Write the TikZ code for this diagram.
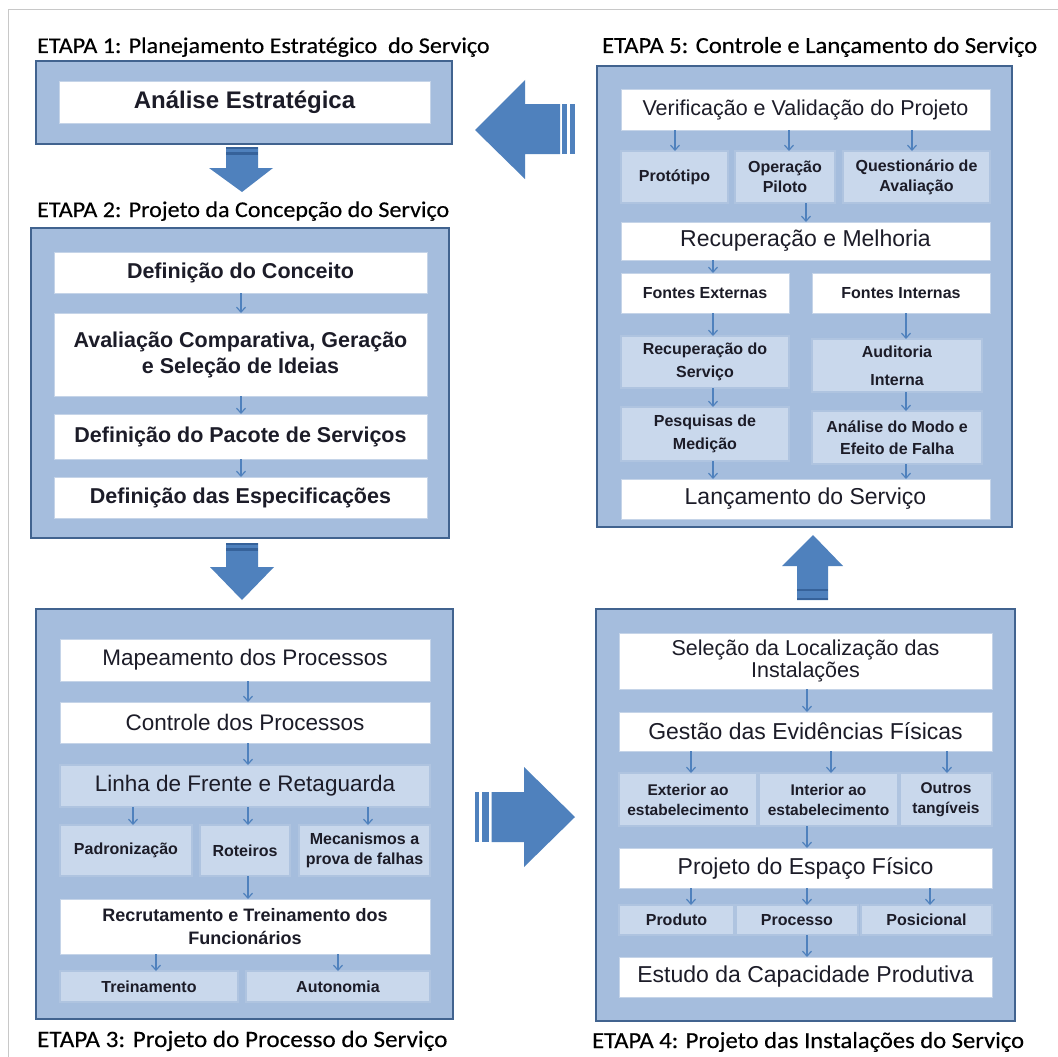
\documentclass[tikz,border=0pt]{standalone}
\usepackage{fontspec}
\setmainfont{Liberation Sans}
\newfontfamily\titlefont[FakeStretch=1.07,FakeBold=0.4]{Carlito}
\usetikzlibrary{arrows.meta}

\definecolor{outerfill}{HTML}{A5BDDD}
\definecolor{outerline}{HTML}{41638F}
\definecolor{lightfill}{HTML}{C9D8EC}
\definecolor{lightline}{HTML}{AFC4E0}
\definecolor{whiteline}{HTML}{C5D4E8}
\definecolor{arrowblue}{HTML}{4F81BD}
\definecolor{arrowdark}{HTML}{36629A}
\definecolor{txt}{HTML}{1C1C28}
\definecolor{framegray}{HTML}{C8C8C8}

\newcommand\mkbox[7]{\node[#1, minimum width={(#5-#3)*1pt}, minimum height={(#6-#4)*1pt}] (#2) at ({(#3+#5)/2},{(#4+#6)/2}) {#7};}

\tikzset{
  outer/.style={draw=outerline, fill=outerfill, line width=2.5pt, inner sep=0pt, outer sep=0pt},
  wbox/.style={draw=whiteline, fill=white, line width=1pt, inner sep=0pt, outer sep=0pt, text=txt, align=center},
  lbox/.style={draw=lightline, fill=lightfill, line width=1.5pt, inner sep=0pt, outer sep=0pt, text=txt, align=center},
  title/.style={font=\titlefont\fontsize{23}{26}\selectfont, anchor=base west, inner sep=0pt, text=black},
  tsmall/.style={font=\titlefont\fontsize{22.5}{26}\selectfont},
  fb24/.style={font=\bfseries\fontsize{24}{28}\selectfont},
  fb22/.style={font=\bfseries\fontsize{21.5}{26}\selectfont},
  fr22/.style={font=\fontsize{22.5}{26}\selectfont},
  fr21/.style={font=\fontsize{21.5}{22}\selectfont},
  fr23/.style={font=\fontsize{23}{26}\selectfont},
  fb18/.style={font=\bfseries\fontsize{18}{23}\selectfont},
  fs/.style={font=\bfseries\fontsize{16}{20}\selectfont},
  fs22/.style={font=\bfseries\fontsize{16}{22.5}\selectfont},
  fs28/.style={font=\bfseries\fontsize{16}{28}\selectfont},
  fe/.style={font=\bfseries\fontsize{15.5}{20}\selectfont},
  sarr/.style={draw=arrowblue, line width=1.2pt, -{Straight Barb[length=5pt,width=9pt]}},
  bigarrow/.style={fill=arrowblue},
}

\begin{document}
\begin{tikzpicture}[x=1pt, y=-1pt]
\useasboundingbox (0,0) rectangle (1058,1057);
\fill[white] (0,0) rectangle (1058,1057);
\draw[framegray, line width=1.2pt] (8.5,1057) -- (8.5,9.5) -- (1058,9.5);

% ---------- titles
\node[title, tsmall] (t1) at (37,53) {ETAPA 1: Planejamento Estratégico\ \ do Serviço};
\node[title] (t5) at (602,53) {ETAPA 5: Controle e Lançamento do Serviço};
\node[title, tsmall] (t2) at (37,217) {ETAPA 2: Projeto da Concepção do Serviço};
\node[title, font=\titlefont\fontsize{23.5}{26}\selectfont] (t3) at (37,1047) {ETAPA 3: Projeto do Processo do Serviço};
\node[title] (t4) at (592,1048) {ETAPA 4: Projeto das Instalações do Serviço};

% ---------- stage 1
\mkbox{outer}{s1}{36}{61}{452}{144}{}
\mkbox{wbox,fb24}{e1}{59}{82}{430}{123}{Análise Estratégica}

% ---------- stage 2
\mkbox{outer}{s2}{31}{228}{449}{538}{}
\mkbox{wbox,fb22}{a1}{54}{252}{427}{293}{Definição do Conceito}
\mkbox{wbox,fb22}{a2}{54}{313}{427}{396}{Avaliação Comparativa, Geração\\e Seleção de Ideias}
\mkbox{wbox,fb22}{a3}{54}{414}{427}{459}{Definição do Pacote de Serviços}
\mkbox{wbox,fb22}{a4}{54}{477}{427}{518}{Definição das Especificações}
\draw[sarr] (a1.south -| 241,0) -- (a2.north -| 241,0);
\draw[sarr] (a2.south -| 241,0) -- (a3.north -| 241,0);
\draw[sarr] (a3.south -| 241,0) -- (a4.north -| 241,0);

% ---------- stage 3
\mkbox{outer}{s3}{36}{609}{453}{1019}{}
\mkbox{wbox,fr22}{b1}{60}{639}{430}{681}{Mapeamento dos Processos}
\mkbox{wbox,fr22}{b2}{60}{702}{430}{743}{Controle dos Processos}
\mkbox{lbox,fr22}{b3}{60}{765}{430}{807}{Linha de Frente e Retaguarda}
\mkbox{lbox,fs}{b4}{60}{825}{192}{876}{Padronização}
\mkbox{lbox,fs}{b5}{200}{825}{290}{876}{Roteiros}
\mkbox{lbox,fs}{b6}{299}{825}{430}{876}{Mecanismos a\\prova de falhas}
\mkbox{wbox,fb18}{b7}{60}{899}{430}{954}{Recrutamento e Treinamento dos\\Funcionários}
\mkbox{lbox,fs}{b8}{60}{971}{238}{1002}{Treinamento}
\mkbox{lbox,fs}{b9}{246}{971}{430}{1002}{Autonomia}
\draw[sarr] (b1.south -| 248,0) -- (b2.north -| 248,0);
\draw[sarr] (b2.south -| 248,0) -- (b3.north -| 248,0);
\draw[sarr] (b3.south -| 133,0) -- (b4.north -| 133,0);
\draw[sarr] (b3.south -| 248,0) -- (b5.north -| 248,0);
\draw[sarr] (b3.south -| 368,0) -- (b6.north -| 368,0);
\draw[sarr] (b5.south -| 248,0) -- (b7.north -| 248,0);
\draw[sarr] (b7.south -| 156,0) -- (b8.north -| 156,0);
\draw[sarr] (b7.south -| 338,0) -- (b9.north -| 338,0);

% ---------- stage 4
\mkbox{outer}{s4}{596}{609}{1015}{1021}{}
\mkbox{wbox,fr21}{c1}{619}{633}{992}{689}{Seleção da Localização das\\Instalações}
\mkbox{wbox,fr23}{c2}{619}{712}{992}{751}{Gestão das Evidências Físicas}
\mkbox{lbox,fe}{c3}{619}{773}{757}{826}{Exterior ao\\estabelecimento}
\mkbox{lbox,fe}{c4}{759}{773}{898}{826}{Interior ao\\estabelecimento}
\mkbox{lbox,fe}{c5}{900}{773}{992}{826}{Outros\\tangíveis}
\mkbox{wbox,fr23}{c6}{619}{848}{992}{888}{Projeto do Espaço Físico}
\mkbox{lbox,fs}{c7}{619}{905}{734}{935}{Produto}
\mkbox{lbox,fs}{c8}{736}{905}{858}{935}{Processo}
\mkbox{lbox,fs}{c9}{861}{905}{992}{935}{Posicional}
\mkbox{wbox,fr23}{c10}{619}{957}{992}{997}{Estudo da Capacidade Produtiva}
\draw[sarr] (c1.south -| 807,0) -- (c2.north -| 807,0);
\draw[sarr] (c2.south -| 691,0) -- (c3.north -| 691,0);
\draw[sarr] (c2.south -| 831,0) -- (c4.north -| 831,0);
\draw[sarr] (c2.south -| 947,0) -- (c5.north -| 947,0);
\draw[sarr] (c4.south -| 807,0) -- (c6.north -| 807,0);
\draw[sarr] (c6.south -| 691,0) -- (c7.north -| 691,0);
\draw[sarr] (c6.south -| 807,0) -- (c8.north -| 807,0);
\draw[sarr] (c6.south -| 930,0) -- (c9.north -| 930,0);
\draw[sarr] (c8.south -| 807,0) -- (c10.north -| 807,0);

% ---------- stage 5
\mkbox{outer}{s5}{597}{66}{1012}{527}{}
\mkbox{wbox,fr21}{d1}{621}{90}{990}{130}{Verificação e Validação do Projeto}
\mkbox{lbox,fs}{d2}{621}{151}{728}{203}{Protótipo}
\mkbox{lbox,fs}{d3}{735}{151}{835}{203}{Operação\\Piloto}
\mkbox{lbox,fs}{d4}{843}{151}{990}{203}{Questionário de\\Avaliação}
\mkbox{wbox,fr23}{d5}{621}{222}{990}{260}{Recuperação e Melhoria}
\mkbox{wbox,fs}{d6}{621}{273}{789}{313}{Fontes Externas}
\mkbox{wbox,fs}{d7}{812}{273}{990}{313}{Fontes Internas}
\mkbox{lbox,fs22}{d8}{621}{336}{789}{388}{Recuperação do\\Serviço}
\mkbox{lbox,fs28}{d9}{812}{339}{982}{392}{Auditoria\\Interna}
\mkbox{lbox,fs22}{d10}{621}{407}{789}{461}{Pesquisas de\\Medição}
\mkbox{lbox,fs22}{d11}{812}{411}{982}{464}{Análise do Modo e\\Efeito de Falha}
\mkbox{wbox,fr23}{d12}{621}{479}{990}{519}{Lançamento do Serviço}
\draw[sarr] (d1.south -| 675,0) -- (d2.north -| 675,0);
\draw[sarr] (d1.south -| 789,0) -- (d3.north -| 789,0);
\draw[sarr] (d1.south -| 912,0) -- (d4.north -| 912,0);
\draw[sarr] (d3.south -| 806,0) -- (d5.north -| 806,0);
\draw[sarr] (d5.south -| 713,0) -- (d6.north -| 713,0);
\draw[sarr] (d6.south -| 713,0) -- (d8.north -| 713,0);
\draw[sarr] (d7.south -| 906,0) -- (d9.north -| 906,0);
\draw[sarr] (d8.south -| 713,0) -- (d10.north -| 713,0);
\draw[sarr] (d9.south -| 906,0) -- (d11.north -| 906,0);
\draw[sarr] (d10.south -| 713,0) -- (d12.north -| 713,0);
\draw[sarr] (d11.south -| 906,0) -- (d12.north -| 906,0);

% ---------- big arrows
% stage 1 -> stage 2
\fill[bigarrow] (226,147) -- (258,147) -- (258,168) -- (273,168) -- (242,192) -- (209,168) -- (226,168) -- cycle;
\fill[arrowdark] (226,147) rectangle (258,149);
\fill[arrowdark] (226,151.5) rectangle (258,155);
% stage 2 -> stage 3
\fill[bigarrow] (226,543) -- (258,543) -- (258,567) -- (274,567) -- (242,600) -- (210,567) -- (226,567) -- cycle;
\fill[arrowdark] (226,543) rectangle (258,545);
\fill[arrowdark] (226,547.5) rectangle (258,551);
% stage 3 -> stage 4
\fill[bigarrow] (491.7,792) -- (524,792) -- (524,767) -- (575,817) -- (524,867) -- (524,842) -- (491.7,842) -- cycle;
\fill[bigarrow] (481.7,792) rectangle (489.3,842);
\fill[bigarrow] (475,792) rectangle (479.3,842);
% stage 4 -> stage 5
\fill[bigarrow] (797,600) -- (797,566) -- (782,566) -- (813,535) -- (843,566) -- (828,566) -- (828,600) -- cycle;
\fill[arrowdark] (797,589) rectangle (828,591);
\fill[arrowdark] (797,597.5) rectangle (828,600);
% stage 5 -> stage 1
\fill[bigarrow] (560,104) -- (525,104) -- (525,80) -- (475,130) -- (525,179) -- (525,154) -- (560,154) -- cycle;
\fill[bigarrow] (562.3,104) rectangle (567.3,154);
\fill[bigarrow] (570,104) rectangle (575,154);
\end{tikzpicture}
\end{document}
